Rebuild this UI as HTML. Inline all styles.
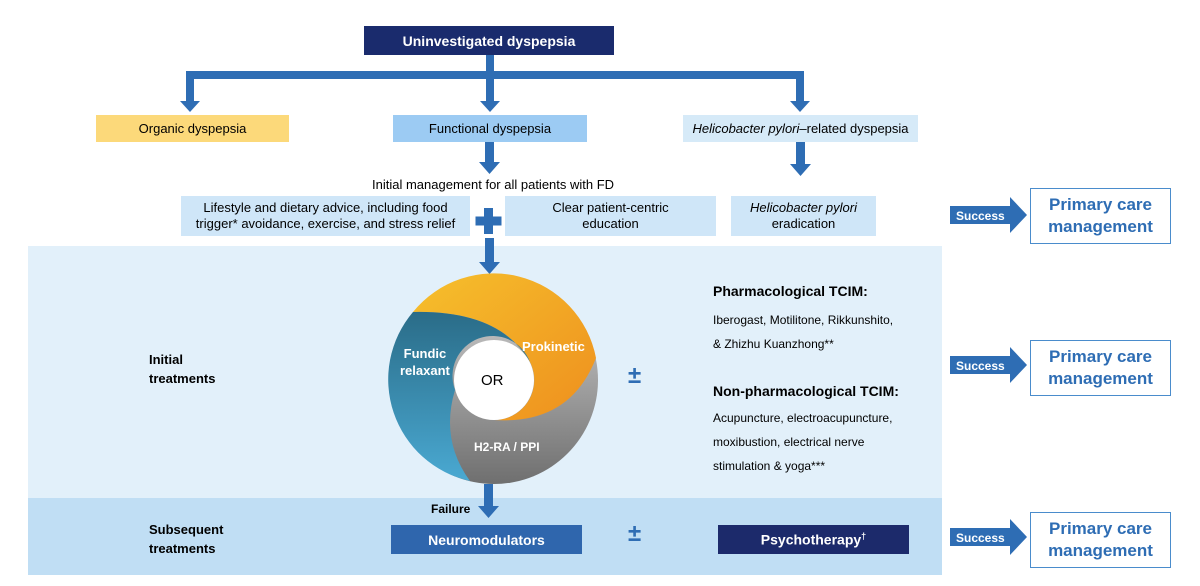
<!DOCTYPE html>
<html><head><meta charset="utf-8"><style>
body{margin:0;width:1200px;height:586px;background:#fff;position:relative;font-family:"Liberation Sans",sans-serif;overflow:hidden}
.a{position:absolute;box-sizing:border-box;display:flex;align-items:center;justify-content:center;text-align:center}
.t{position:absolute}
</style></head><body>
<div class="a" style="left:28px;top:246px;width:914px;height:252px;background:#e2f0fa"></div>
<div class="a" style="left:28px;top:498px;width:914px;height:77px;background:#c0def4"></div>
<svg width="1200" height="586" style="position:absolute;left:0;top:0">
<defs>
<linearGradient id="go" x1="0" y1="0" x2="1" y2="1"><stop offset="0" stop-color="#f6c02c"/><stop offset="1" stop-color="#ee8f1e"/></linearGradient>
<linearGradient id="gg" x1="0" y1="0" x2="0" y2="1"><stop offset="0" stop-color="#d6d6d6"/><stop offset="1" stop-color="#6f6f6f"/></linearGradient>
<linearGradient id="gb" x1="0" y1="0" x2="0" y2="1"><stop offset="0" stop-color="#2a6c88"/><stop offset="1" stop-color="#4aa9d2"/></linearGradient>
</defs>
<g fill="#2e6db4">
<rect x="486" y="55" width="8" height="20"/>
<rect x="186" y="71" width="618" height="8"/>
<rect x="186" y="71" width="8" height="32"/><polygon points="180,101 200,101 190,112"/>
<rect x="486" y="71" width="8" height="32"/><polygon points="480,101 500,101 490,112"/>
<rect x="796" y="71" width="8" height="32"/><polygon points="790,101 810,101 800,112"/>
<rect x="485" y="142" width="9" height="22"/><polygon points="479,162 500,162 489.5,174"/>
<rect x="796" y="142" width="9" height="24"/><polygon points="790,164 811,164 800.5,176"/>
<rect x="485" y="238" width="9" height="26"/><polygon points="479,262 500,262 489.5,274"/>
<rect x="484" y="484" width="9" height="24"/><polygon points="478,506 499,506 488.5,518"/>
<rect x="484" y="208" width="9" height="26"/><rect x="475.5" y="216.5" width="26" height="9"/>
</g>
<circle cx="494" cy="380" r="104" fill="url(#gg)"/>
<path d="M413,312 A104,104 0 0 1 596,358 Q570,425 494,420 A40,40 0 0 0 530,362 Q500,310 413,312 Z" fill="url(#go)"/>
<path d="M413,312 Q500,310 530,362 A40,40 0 0 0 455,390 Q440,440 470,481 A104,104 0 0 1 413,312 Z" fill="url(#gb)"/>
<circle cx="494" cy="380" r="40" fill="#fff"/>
</svg>
<div class="a" style="left:364px;top:26px;width:250px;height:29px;background:#1a2b6d;color:#fff;font-weight:bold;font-size:14px">Uninvestigated dyspepsia</div>
<div class="a" style="left:96px;top:115px;width:193px;height:27px;background:#fcd97a;font-size:13px">Organic dyspepsia</div>
<div class="a" style="left:393px;top:115px;width:194px;height:27px;background:#9ccbf3;font-size:13px">Functional dyspepsia</div>
<div class="a" style="left:683px;top:115px;width:235px;height:27px;background:#d6eaf8;font-size:13px"><span><i>Helicobacter pylori</i>–related dyspepsia</span></div>
<div class="t" style="left:372px;top:177px;font-size:13px">Initial management for all patients with FD</div>
<div class="a" style="left:181px;top:196px;width:289px;height:40px;background:#cfe6f8;font-size:13px;line-height:16px">Lifestyle and dietary advice, including food<br>trigger* avoidance, exercise, and stress relief</div>
<div class="a" style="left:505px;top:196px;width:211px;height:40px;background:#cfe6f8;font-size:13px;line-height:16px">Clear patient-centric<br>education</div>
<div class="a" style="left:731px;top:196px;width:145px;height:40px;background:#cfe6f8;font-size:13px;line-height:16px"><span><i>Helicobacter pylori</i><br>eradication</span></div>
<div class="t" style="left:149px;top:350px;font-size:13px;font-weight:bold;line-height:19px">Initial<br>treatments</div>
<div class="t" style="left:149px;top:520px;font-size:13px;font-weight:bold;line-height:19px">Subsequent<br>treatments</div>
<div class="t" style="left:400px;top:345px;font-size:13px;font-weight:bold;color:#fff;line-height:17px;text-align:center">Fundic<br>relaxant</div>
<div class="t" style="left:522px;top:339px;font-size:13px;font-weight:bold;color:#fff">Prokinetic</div>
<div class="t" style="left:474px;top:440px;font-size:12px;font-weight:bold;color:#fff">H2-RA / PPI</div>
<div class="t" style="left:481px;top:372px;font-size:15px">OR</div>
<div class="t" style="left:628px;top:362px;font-size:24px;font-weight:bold;color:#2e6db4">±</div>
<div class="t" style="left:628px;top:520px;font-size:24px;font-weight:bold;color:#2e6db4">±</div>
<div class="t" style="left:713px;top:283px;font-size:14px;font-weight:bold">Pharmacological TCIM:</div>
<div class="t" style="left:713px;top:308px;font-size:12px;line-height:24px">Iberogast, Motilitone, Rikkunshito,<br>&amp; Zhizhu Kuanzhong**</div>
<div class="t" style="left:713px;top:383px;font-size:14px;font-weight:bold">Non-pharmacological TCIM:</div>
<div class="t" style="left:713px;top:406px;font-size:12px;line-height:24px">Acupuncture, electroacupuncture,<br>moxibustion, electrical nerve<br>stimulation &amp; yoga***</div>
<div class="t" style="left:431px;top:502px;font-size:12px;font-weight:bold">Failure</div>
<div class="a" style="left:391px;top:525px;width:191px;height:29px;background:#2f66ad;color:#fff;font-weight:bold;font-size:14px">Neuromodulators</div>
<div class="a" style="left:718px;top:525px;width:191px;height:29px;background:#1c2a6b;color:#fff;font-weight:bold;font-size:14px"><span>Psychotherapy<sup style="font-size:9px">†</sup></span></div>
<svg width="1200" height="586" style="position:absolute;left:0;top:0">
<g fill="#2e6db4">
<polygon points="950,206 1010,206 1010,197 1027,215 1010,233 1010,224 950,224"/>
<polygon points="950,356 1010,356 1010,347 1027,365 1010,383 1010,374 950,374"/>
<polygon points="950,528 1010,528 1010,519 1027,537 1010,555 1010,546 950,546"/>
</g>
<g font-family="Liberation Sans" font-weight="bold" font-size="12" fill="#fff">
<text x="956" y="220">Success</text><text x="956" y="370">Success</text><text x="956" y="542">Success</text>
</g></svg>
<div class="a" style="left:1030px;top:188px;width:141px;height:56px;border:1.5px solid #4a8ccc;color:#2e6db4;font-weight:bold;font-size:17px;line-height:22px">Primary care<br>management</div>
<div class="a" style="left:1030px;top:340px;width:141px;height:56px;border:1.5px solid #4a8ccc;color:#2e6db4;font-weight:bold;font-size:17px;line-height:22px">Primary care<br>management</div>
<div class="a" style="left:1030px;top:512px;width:141px;height:56px;border:1.5px solid #4a8ccc;color:#2e6db4;font-weight:bold;font-size:17px;line-height:22px">Primary care<br>management</div>
</body></html>
